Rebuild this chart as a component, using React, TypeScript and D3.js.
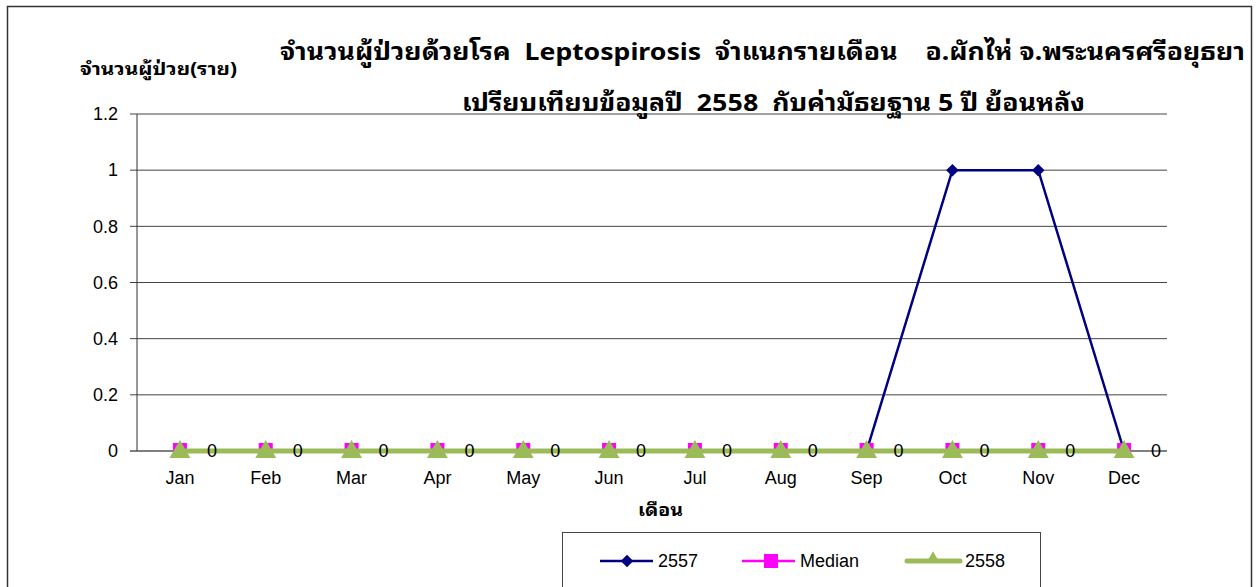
import React from "react";
import * as d3 from "d3";

const months = ["Jan", "Feb", "Mar", "Apr", "May", "Jun", "Jul", "Aug", "Sep", "Oct", "Nov", "Dec"];
const s2557 = [0, 0, 0, 0, 0, 0, 0, 0, 0, 1, 1, 0];
const sMedian = [0, 0, 0, 0, 0, 0, 0, 0, 0, 0, 0, 0];
const s2558 = [0, 0, 0, 0, 0, 0, 0, 0, 0, 0, 0, 0];
const yTicks = [0, 0.2, 0.4, 0.6, 0.8, 1, 1.2];
const title1 = "จำนวนผู้ป่วยด้วยโรค  Leptospirosis  จำแนกรายเดือน    อ.ผักไห่ จ.พระนครศรีอยุธยา";
const title2 = "เปรียบเทียบข้อมูลปี  2558  กับค่ามัธยฐาน 5 ปี ย้อนหลัง";
const yTitle = "จำนวนผู้ป่วย(ราย)";
const xTitle = "เดือน";

const W = 1260, H = 587;
const plot = { left: 137, right: 1167, top: 114, bottom: 451 };
const FONT = "Arial, 'Liberation Sans', 'Noto Sans Thai', sans-serif";
const THAI_TITLE = "'Noto Sans Thai Looped', 'Noto Serif Thai', Arial, 'Liberation Sans', sans-serif";

export default function App() {
  const x = d3.scaleBand<string>().domain(months).range([plot.left, plot.right]);
  const cx = (m: string) => (x(m) as number) + x.bandwidth() / 2;
  const y = d3.scaleLinear().domain([0, 1.2]).range([plot.bottom, plot.top]);
  const line = d3.line<number>().x((_, i) => cx(months[i])).y((d) => y(d));
  const diamond = d3.symbol().type(d3.symbolDiamond2).size(100)() as string;
  const tri = d3.symbol().type(d3.symbolTriangle).size(190)() as string;
  const pre = { whiteSpace: "pre" as const };

  return (
    <svg width={W} height={H} style={{ position: "absolute", left: 0, top: 0 }} fontFamily={FONT}>
      <rect x={0} y={0} width={W} height={H} fill="#fff" />
      <rect x={7.5} y={6.5} width={1244} height={600} fill="#fff" stroke="#333" strokeWidth={1.5} />
      {yTicks.map((t) => (
        <g key={t}>
          <line x1={plot.left - 7} x2={plot.right} y1={y(t)} y2={y(t)} stroke={t === 0 ? "#000" : "#444"} strokeWidth={1} />
          <text x={118} y={y(t)} dy="0.35em" textAnchor="end" fontSize={18} fill="#000">{t}</text>
        </g>
      ))}
      <line x1={plot.left} x2={plot.left} y1={plot.top} y2={plot.bottom} stroke="#333" />
      {months.map((m) => (
        <text key={m} x={cx(m)} y={484} textAnchor="middle" fontSize={18} fill="#000">{m}</text>
      ))}
      <path d={line(s2557) as string} fill="none" stroke="#000080" strokeWidth={2.5} />
      {s2557.map((v, i) => (
        <path key={"d" + i} d={diamond} transform={`translate(${cx(months[i])},${y(v)})`} fill="#000080" />
      ))}
      <path d={line(sMedian) as string} fill="none" stroke="#FF00FF" strokeWidth={2.5} />
      {sMedian.map((v, i) => (
        <rect key={"m" + i} x={cx(months[i]) - 7} y={y(v) - 8} width={14} height={14} fill="#FF00FF" />
      ))}
      <path d={line(s2558) as string} fill="none" stroke="#9BBB59" strokeWidth={5} />
      {s2558.map((v, i) => (
        <path key={"t" + i} d={tri} transform={`translate(${cx(months[i])},${y(v) + 1})`} fill="#9BBB59" />
      ))}
      {s2558.map((v, i) => (
        <text key={"l" + i} x={cx(months[i]) + 32} y={y(v)} dy="0.35em" textAnchor="middle" fontSize={18} fill="#000">{v}</text>
      ))}
      <text x={280} y={60} fontSize={24} fontWeight="bold" fill="#000" fontFamily={THAI_TITLE} style={pre} textLength={965} lengthAdjust="spacingAndGlyphs">{title1}</text>
      <text x={462} y={111} fontSize={24} fontWeight="bold" fill="#000" fontFamily={THAI_TITLE} style={pre} textLength={623} lengthAdjust="spacingAndGlyphs">{title2}</text>
      <text x={80} y={75} fontSize={18} fontWeight="bold" fontFamily={THAI_TITLE} fill="#000" textLength={157} lengthAdjust="spacingAndGlyphs">{yTitle}</text>
      <text x={638} y={516} fontSize={18} fontWeight="bold" fontFamily={THAI_TITLE} fill="#000" textLength={45} lengthAdjust="spacingAndGlyphs">{xTitle}</text>
      <rect x={562.5} y={532.5} width={478} height={70} fill="#fff" stroke="#444" />
      <line x1={600} x2={653} y1={561} y2={561} stroke="#000080" strokeWidth={2.5} />
      <path d={diamond} transform="translate(627,561)" fill="#000080" />
      <text x={658} y={561} dy="0.35em" fontSize={18}>2557</text>
      <line x1={742} x2={795} y1={561} y2={561} stroke="#FF00FF" strokeWidth={2.5} />
      <rect x={764} y={554} width={14} height={14} fill="#FF00FF" />
      <text x={800} y={561} dy="0.35em" fontSize={18}>Median</text>
      <line x1={907} x2={960} y1={561} y2={561} stroke="#9BBB59" strokeWidth={5} strokeLinecap="round" />
      <path d={d3.symbol().type(d3.symbolTriangle).size(80)() as string} transform="translate(933,559)" fill="#9BBB59" />
      <text x={965} y={561} dy="0.35em" fontSize={18}>2558</text>
    </svg>
  );
}
